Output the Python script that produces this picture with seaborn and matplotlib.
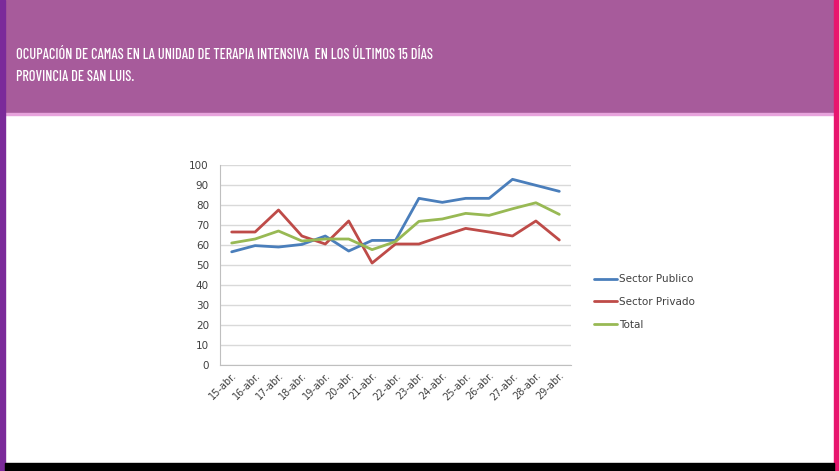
import matplotlib
matplotlib.use("Agg")
import matplotlib.pyplot as plt
from matplotlib import font_manager as fm
from matplotlib.patches import Rectangle
import seaborn as sns
import pandas as pd

sns.set_style("white")

# data
dias = ['15-abr.', '16-abr.', '17-abr.', '18-abr.', '19-abr.', '20-abr.', '21-abr.',
        '22-abr.', '23-abr.', '24-abr.', '25-abr.', '26-abr.', '27-abr.', '28-abr.', '29-abr.']
sector_publico = [56.5, 59.6, 58.9, 60.2, 64.4, 56.9, 62.2, 62.2, 83.2, 81.2, 83.2, 83.2, 92.7, 89.7, 86.7]
sector_privado = [66.4, 66.4, 77.4, 64.4, 60.4, 71.9, 50.9, 60.4, 60.4, 64.4, 68.2, 66.4, 64.4, 71.9, 62.4]
total = [60.9, 62.9, 66.9, 61.9, 62.9, 62.9, 57.6, 61.6, 71.7, 72.9, 75.7, 74.7, 78.0, 81.0, 75.2]
series = ['Sector Publico', 'Sector Privado', 'Total']
colores = ['#4A7EBB', '#BE4B48', '#98B954']

titulo_1 = "OCUPACIÓN DE CAMAS EN LA UNIDAD DE TERAPIA INTENSIVA  EN LOS ÚLTIMOS 15 DÍAS"
titulo_2 = "PROVINCIA DE SAN LUIS."

df = pd.DataFrame({
    'dia': dias * 3,
    'valor': sector_publico + sector_privado + total,
    'serie': [s for s in series for _ in dias],
})

# pick a condensed face for the banner title if one is around
available = {f.name for f in fm.fontManager.ttflist}
title_font = next((f for f in ['Barlow Condensed', 'Roboto Condensed', 'PT Sans Narrow',
                               'Archivo Narrow', 'Barlow Semi Condensed', 'Liberation Sans Narrow']
                   if f in available), 'DejaVu Sans')

W, H = 839, 471
fig = plt.figure(figsize=(W / 100, H / 100), dpi=100)
fig.patch.set_facecolor('#FFFFFF')

# slide decoration: banner, side strips, bottom bar
fig.patches.append(Rectangle((0, 1 - 113 / H), 1, 113 / H, transform=fig.transFigure,
                             color='#A75B9B', zorder=0))
fig.patches.append(Rectangle((0, 1 - 115 / H), 1, 2 / H, transform=fig.transFigure,
                             color='#E7A3DC', zorder=0))
fig.patches.append(Rectangle((0, 0), 5 / W, 1, transform=fig.transFigure,
                             color='#7B2A9A', zorder=1))
fig.patches.append(Rectangle((1 - 5 / W, 0), 5 / W, 1, transform=fig.transFigure,
                             color='#E8156E', zorder=1))
fig.patches.append(Rectangle((5 / W, 0), 1 - 10 / W, 8 / H, transform=fig.transFigure,
                             color='#000000', zorder=1))

t1 = fig.text(16 / W, 1 - 55 / H, titulo_1, color='white', fontsize=11.5,
              family=[title_font, 'DejaVu Sans'], weight='medium', ha='left', va='center')
# fit first line width to the reference (~419 px)
r = fig.canvas.get_renderer()
fs = min(12, 11.5 * 419 / t1.get_window_extent(r).width)
t1.set_fontsize(fs)
fig.text(16 / W, 1 - 77 / H, titulo_2, color='white', fontsize=fs,
         family=[title_font, 'DejaVu Sans'], weight='medium', ha='left', va='center')

ax = fig.add_axes([220 / W, 1 - 365 / H, 351 / W, 200.3 / H])
sns.lineplot(data=df, x='dia', y='valor', hue='serie', hue_order=series,
             palette=colores, linewidth=2.0, sort=False, ax=ax)

ax.set_ylim(0, 100)
ax.set_xlim(-0.5, len(dias) - 0.5)
ax.set_yticks(range(0, 101, 10))
ax.yaxis.grid(True, color='#D9D9D9', linewidth=1.0)
ax.set_axisbelow(True)
ax.set_xlabel('')
ax.set_ylabel('')
for s in ['top', 'right']:
    ax.spines[s].set_visible(False)
for s in ['left', 'bottom']:
    ax.spines[s].set_color('#BFBFBF')
ax.tick_params(axis='y', labelsize=7.5, colors='#404040', length=0, pad=8)
ax.tick_params(axis='x', labelsize=7, colors='#404040', length=0, pad=4)
plt.setp(ax.get_xticklabels(), rotation=45, ha='right', rotation_mode='anchor')

handles, labels = ax.get_legend_handles_labels()
ax.legend(handles, labels, loc='center left', bbox_to_anchor=(585 / W, 1 - 302 / H),
          bbox_transform=fig.transFigure, frameon=False, fontsize=7.5,
          handlelength=2.2, handletextpad=0.2, labelspacing=1.2,
          labelcolor='#404040')

fig.savefig('out.png', dpi=100)
